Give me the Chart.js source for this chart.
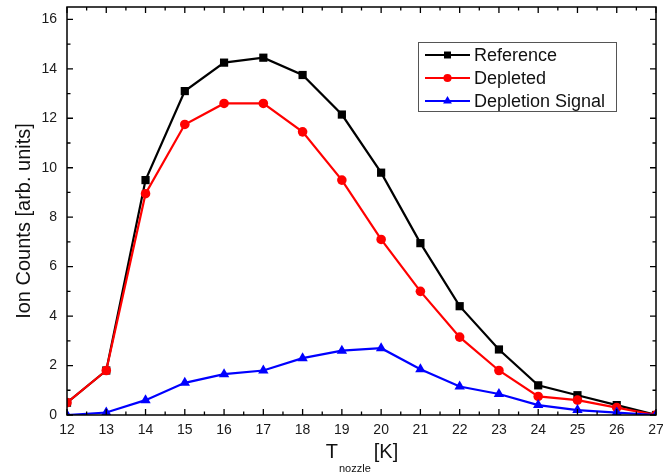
<!DOCTYPE html>
<html>
<head>
<meta charset="utf-8">
<script src="https://cdn.jsdelivr.net/npm/chart.js@4/dist/chart.umd.min.js"></script>
<style>
  html, body { margin: 0; padding: 0; background: #ffffff; }
  #wrap { width: 663px; height: 476px; }
</style>
</head>
<body>
<div id="wrap"><canvas id="c" width="663" height="476"></canvas></div>
<script>
// Nozzle temperature [K]
const temps = [12, 13, 14, 15, 16, 17, 18, 19, 20, 21, 22, 23, 24, 25, 26, 27];
// Ion counts [arb. units]
const reference = [0.5, 1.8, 9.5, 13.1, 14.25, 14.45, 13.75, 12.15, 9.8, 6.95, 4.4, 2.65, 1.2, 0.8, 0.4, 0.0];
const depleted  = [0.5, 1.8, 8.95, 11.75, 12.6, 12.6, 11.45, 9.5, 7.1, 5.0, 3.15, 1.8, 0.75, 0.6, 0.3, 0.0];
const depletionSignal = [0.0, 0.1, 0.6, 1.3, 1.65, 1.8, 2.3, 2.6, 2.7, 1.85, 1.15, 0.85, 0.4, 0.2, 0.1, 0.0];

const seriesNames = ['Reference', 'Depleted', 'Depletion Signal'];
const yTitle = 'Ion Counts [arb. units]';
const xTitleMain = 'T';
const xTitleSub = 'nozzle';
const xTitleUnit = '[K]';

const FONT = '"Liberation Sans", Arial, sans-serif';

const toPoints = arr => arr.map((v, i) => ({ x: temps[i], y: v }));

const styles = [
  { color: '#000000', pointStyle: 'rect', radius: 5.8 },
  { color: '#ff0000', pointStyle: 'circle', radius: 4.8 },
  { color: '#0000ff', pointStyle: 'triangle', radius: 6 }
];

// Frame with inward ticks on all four sides, axis titles and the legend box
const framePlugin = {
  id: 'frame',
  afterDatasetsDraw(chart) {
    const { ctx, chartArea: a, scales } = chart;
    const xs = scales.x, ys = scales.y;
    ctx.save();
    ctx.strokeStyle = '#000';
    ctx.lineWidth = 1.5;
    ctx.strokeRect(a.left, a.top, a.right - a.left, a.bottom - a.top);

    ctx.lineWidth = 1.3;
    ctx.beginPath();
    for (let v = 12; v <= 27.001; v += 0.5) {
      const px = xs.getPixelForValue(v);
      const len = Number.isInteger(v) ? 6 : 3.5;
      ctx.moveTo(px, a.bottom); ctx.lineTo(px, a.bottom - len);
      ctx.moveTo(px, a.top); ctx.lineTo(px, a.top + len);
    }
    for (let v = 0; v <= 16; v += 1) {
      const py = ys.getPixelForValue(v);
      const len = v % 2 === 0 ? 6 : 3.5;
      ctx.moveTo(a.left, py); ctx.lineTo(a.left + len, py);
      ctx.moveTo(a.right, py); ctx.lineTo(a.right - len, py);
    }
    ctx.stroke();
    ctx.restore();
  },
  afterDraw(chart) {
    const { ctx } = chart;
    ctx.save();
    ctx.fillStyle = '#111';

    // y axis title
    ctx.save();
    ctx.translate(24, 221);
    ctx.rotate(-Math.PI / 2);
    ctx.font = '20px ' + FONT;
    ctx.textAlign = 'center';
    ctx.textBaseline = 'middle';
    ctx.fillText(yTitle, 0, 0);
    ctx.restore();

    // x axis title with subscript
    ctx.textAlign = 'left';
    ctx.textBaseline = 'alphabetic';
    ctx.font = '20px ' + FONT;
    const wT = ctx.measureText(xTitleMain).width;
    ctx.font = '11px ' + FONT;
    const wS = ctx.measureText(xTitleSub).width;
    ctx.font = '20px ' + FONT;
    const wU = ctx.measureText(xTitleUnit).width;
    const total = wT + 1 + wS + 3 + wU;
    const x0 = 362 - total / 2;
    ctx.fillText(xTitleMain, x0, 458);
    ctx.font = '11px ' + FONT;
    ctx.fillText(xTitleSub, x0 + wT + 1, 472);
    ctx.font = '20px ' + FONT;
    ctx.fillText(xTitleUnit, x0 + wT + 1 + wS + 3, 458);

    // legend
    const box = { x: 418.5, y: 42.5, w: 198, h: 69 };
    ctx.fillStyle = '#ffffff';
    ctx.fillRect(box.x, box.y, box.w, box.h);
    ctx.strokeStyle = '#555';
    ctx.lineWidth = 1;
    ctx.strokeRect(box.x, box.y, box.w, box.h);
    const rows = [55, 78, 101];
    ctx.font = '18px ' + FONT;
    ctx.textBaseline = 'middle';
    styles.forEach((s, i) => {
      const y = rows[i];
      ctx.strokeStyle = s.color;
      ctx.lineWidth = 2.2;
      ctx.beginPath();
      ctx.moveTo(425, y); ctx.lineTo(470, y);
      ctx.stroke();
      ctx.fillStyle = s.color;
      Chart.helpers.drawPoint(ctx, { pointStyle: s.pointStyle, radius: s.radius * 0.85, borderWidth: 0 }, 447.5, y);
      ctx.fillStyle = '#111';
      ctx.fillText(seriesNames[i], 474, y + 1);
    });
    ctx.restore();
  }
};

const seriesData = [reference, depleted, depletionSignal];

new Chart(document.getElementById('c'), {
  type: 'line',
  data: {
    datasets: seriesData.map((arr, i) => ({
      label: seriesNames[i],
      data: toPoints(arr),
      borderColor: styles[i].color,
      backgroundColor: styles[i].color,
      pointBackgroundColor: styles[i].color,
      pointBorderColor: styles[i].color,
      pointBorderWidth: 0,
      pointStyle: styles[i].pointStyle,
      pointRadius: styles[i].radius,
      borderWidth: 2.2,
      tension: 0,
      fill: false,
      order: 2 - i
    }))
  },
  options: {
    responsive: false,
    animation: false,
    events: [],
    layout: { padding: { left: 0, right: 7, top: 7, bottom: 0 } },
    plugins: { legend: { display: false }, tooltip: { enabled: false } },
    scales: {
      x: {
        type: 'linear',
        min: 12,
        max: 27,
        grid: { display: false, drawTicks: false },
        border: { display: false },
        ticks: {
          stepSize: 1,
          padding: 7,
          maxRotation: 0,
          autoSkip: false,
          color: '#1a1a1a',
          font: { family: FONT, size: 14 }
        },
        afterFit(s) { s.height = 61; s.paddingLeft = 0; s.paddingRight = 0; }
      },
      y: {
        type: 'linear',
        min: 0,
        max: 16.5,
        grid: { display: false, drawTicks: false },
        border: { display: false },
        ticks: {
          stepSize: 2,
          includeBounds: false,
          padding: 10,
          color: '#1a1a1a',
          font: { family: FONT, size: 14 }
        },
        afterFit(s) { s.width = 67; s.paddingTop = 0; s.paddingBottom = 0; }
      }
    }
  },
  plugins: [framePlugin]
});
</script>
</body>
</html>
